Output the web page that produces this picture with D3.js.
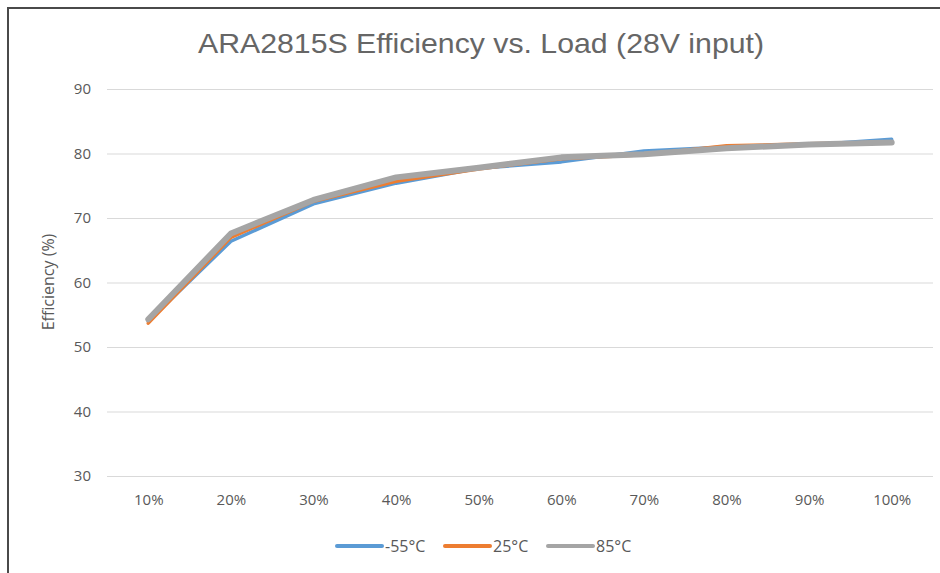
<!DOCTYPE html>
<html><head><meta charset="utf-8">
<script src="https://cdn.jsdelivr.net/npm/d3@7/dist/d3.min.js"></script>
<style>body{margin:0;background:#fff;}svg{display:block;}</style>
</head><body>
<svg id="c" width="940" height="573"></svg>
<script>
const categories = ["10%","20%","30%","40%","50%","60%","70%","80%","90%","100%"];
const seriesNames = ["-55°C","25°C","85°C"];
const m55 = [54.0, 66.4, 72.2, 75.4, 77.7, 78.7, 80.4, 81.0, 81.3, 82.2];
const p25 = [53.7, 67.0, 72.6, 75.7, 77.6, 79.2, 79.8, 81.2, 81.5, 81.8];
const p85 = [54.3, 67.6, 72.8, 76.3, 77.8, 79.4, 79.9, 80.8, 81.4, 81.7];
const yTicks = [30,40,50,60,70,80,90];
const colors = ["#5B9BD5","#ED7D31","#A5A5A5"];
const widths = [3.5,3.5,6];

(function(){
const svg = d3.select("#c");
const pL = 107, pR = 933, pT = 89, pB = 476;
const x = d3.scalePoint().domain(categories).range([pL, pR]).padding(0.5);
const y = d3.scaleLinear().domain([30,90]).range([pB, pT]);
const font = "Open Sans, Noto Sans, sans-serif";

// frame
svg.append("path").attr("d","M8,573 L8,8 L940,8").attr("fill","none").attr("stroke","#4a4a4a").attr("stroke-width",2);

// title
svg.append("text").attr("x",198).attr("y",53)
  .attr("font-family","Liberation Sans, Arial, sans-serif").attr("font-size",28.5).attr("fill","#666666")
  .attr("textLength",566).attr("lengthAdjust","spacingAndGlyphs")
  .text("ARA2815S Efficiency vs. Load (28V input)");

// grid
const yAxis = d3.axisLeft(y).tickValues(yTicks).tickSize(-(pR-pL)).tickPadding(16);
const gy = svg.append("g").attr("transform",`translate(${pL},0)`).call(yAxis);
gy.select(".domain").remove();
gy.selectAll(".tick line").attr("stroke","#d9d9d9").attr("stroke-width",1);
gy.selectAll(".tick text").attr("font-family",font).attr("font-size",15).attr("fill","#595959");

const xAxis = d3.axisBottom(x).tickSize(0).tickPadding(18);
const gx = svg.append("g").attr("transform",`translate(0,${pB})`).call(xAxis);
gx.select(".domain").remove();
gx.selectAll(".tick text").attr("font-family",font).attr("font-size",15).attr("fill","#595959");

// y title
svg.append("text").attr("transform","translate(54,282) rotate(-90)").attr("text-anchor","middle")
  .attr("font-family",font).attr("font-size",16).attr("fill","#595959")
  .text("Efficiency (%)");

const series = [m55,p25,p85];
const line = d3.line().x((d,i)=>x(categories[i])).y(d=>y(d));
series.forEach((s,k)=>{
  svg.append("path").datum(s).attr("d",line).attr("fill","none")
    .attr("stroke",colors[k]).attr("stroke-width",widths[k])
    .attr("stroke-linejoin","round").attr("stroke-linecap","round");
});

// legend
const legX = [337,445,548];
seriesNames.forEach((n,k)=>{
  svg.append("line").attr("x1",legX[k]).attr("x2",legX[k]+45).attr("y1",546).attr("y2",546)
    .attr("stroke",colors[k]).attr("stroke-width",4).attr("stroke-linecap","round");
  svg.append("text").attr("x",legX[k]+48).attr("y",552)
    .attr("font-family",font).attr("font-size",16).attr("fill","#595959").text(n);
});
})();
</script>
</body></html>
